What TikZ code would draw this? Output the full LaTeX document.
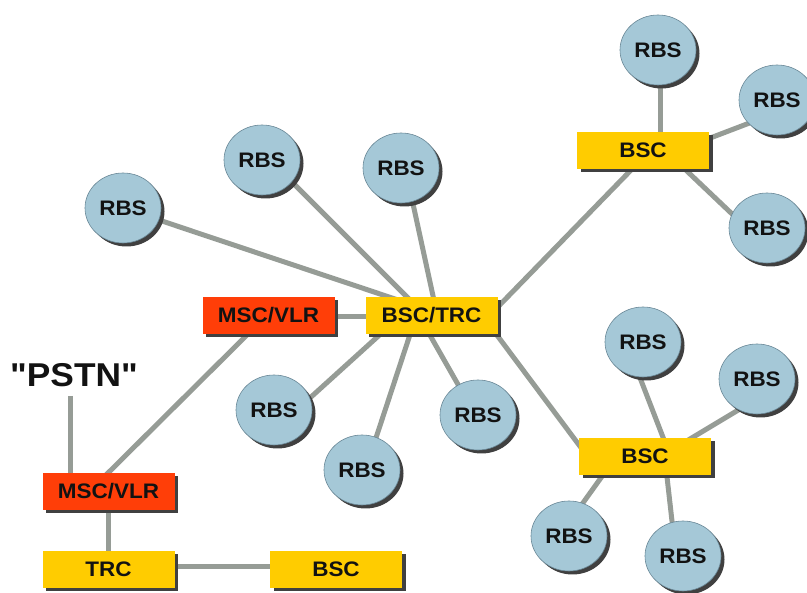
\documentclass[tikz,border=0pt]{standalone}
\usepackage{fontspec}
\setmainfont{Liberation Sans}
\newfontfamily\lblfont[FakeStretch=1.07]{Liberation Sans}
\usetikzlibrary{shapes.geometric,shadows,calc}
\pgfdeclarelayer{background}
\pgfsetlayers{background,main}

\definecolor{rbsblue}{RGB}{165,200,215}
\definecolor{rbsedge}{RGB}{105,135,150}
\definecolor{bscyellow}{RGB}{255,204,0}
\definecolor{mscred}{RGB}{255,62,8}
\definecolor{linkgray}{RGB}{150,156,150}
\definecolor{ink}{RGB}{18,18,18}

\begin{document}
\begin{tikzpicture}[x=1pt,y=-1pt,
  link/.style={draw=linkgray,line width=5pt},
  shadowed/.style={drop shadow={shadow xshift=3.5pt,shadow yshift=-3.5pt,fill=black!75,opacity=1}},
  rbs/.style={ellipse,minimum width=76pt,minimum height=70pt,inner sep=0pt,
    fill=rbsblue,draw=rbsedge,line width=0.6pt,shadowed,text=ink,
    font=\lblfont\bfseries\fontsize{21}{24}\selectfont},
  unit/.style={rectangle,minimum width=132pt,minimum height=37pt,inner sep=0pt,
    shadowed,text=ink,font=\lblfont\bfseries\fontsize{21}{24}\selectfont},
  bscbox/.style={unit,fill=bscyellow},
  mscbox/.style={unit,fill=mscred},
  pstnlabel/.style={inner sep=0pt,text=ink,font=\lblfont\bfseries\fontsize{33}{36}\selectfont}
]
\useasboundingbox (0,0) rectangle (807,593);

% switching units
\node[mscbox] (msc1) at (268.5,315.5) {MSC/VLR};
\node[bscbox] (bsctrc) at (431.5,315.5) {BSC/TRC};
\node[bscbox] (bsc1) at (643,150.5) {BSC};
\node[bscbox] (bsc2) at (645,456.5) {BSC};
\node[mscbox] (msc2) at (108.5,491.5) {MSC/VLR};
\node[bscbox] (trc) at (108.5,569.5) {TRC};
\node[bscbox] (bsc3) at (336,569.5) {BSC};
\node[pstnlabel] (pstn) at (74,375) {"PSTN"};

% radio base stations
\node[rbs] (r1) at (123,208) {RBS};
\node[rbs] (r2) at (262,160) {RBS};
\node[rbs] (r3) at (401,168) {RBS};
\node[rbs] (r4) at (658,50) {RBS};
\node[rbs] (r5) at (777,100) {RBS};
\node[rbs] (r6) at (767,228) {RBS};
\node[rbs] (r7) at (643,342) {RBS};
\node[rbs] (r8) at (757,379) {RBS};
\node[rbs] (r9) at (569,536) {RBS};
\node[rbs] (r10) at (683,556) {RBS};
\node[rbs] (r11) at (274,410) {RBS};
\node[rbs] (r12) at (362,470) {RBS};
\node[rbs] (r13) at (478,415) {RBS};

% links, drawn beneath the nodes
\begin{pgfonlayer}{background}
  \draw[link] ($(r1)+(27,9)$) -- ($(bsctrc)+(-32,-15)$);
  \draw[link] ($(r2)+(23,15)$) -- ($(bsctrc)+(-19.5,-13.5)$);
  \draw[link] ($(r3)+(9,22)$) -- ($(bsctrc)+(3.5,-10.5)$);
  \draw[link] ($(r11)+(26,-3)$) -- ($(bsctrc)+(-46.5,14.5)$);
  \draw[link] ($(r12)+(10,-20)$) -- ($(bsctrc)+(-20,14.5)$);
  \draw[link] ($(r13)+(-14,-20)$) -- ($(bsctrc)+(-4.5,14.5)$);
  \draw[link] ($(bsctrc)+(62,15)$) -- ($(bsc2)+(-63,-7.5)$);
  \draw[link] ($(bsctrc)+(58.5,-0.5)$) -- ($(bsc1)+(-8,15.5)$);
  \draw[link] ($(msc1)+(0,1.5)$) -- ($(bsctrc)+(0,1.5)$);
  \draw[link] ($(msc1)+(-16.5,14.5)$) -- ($(msc2)+(-3.5,-15.5)$);
  \draw[link] ($(pstn.south)+(-4,9)$) -- ($(msc2)+(-38.5,-11.5)$);
  \draw[link] (msc2) -- (trc);
  \draw[link] ($(trc)+(0,-2.5)$) -- ($(bsc3)+(0,-2.5)$);
  \draw[link] ($(bsc1)+(17,-5.5)$) -- ($(r4)+(2,10)$);
  \draw[link] ($(bsc1)+(62,-10.5)$) -- ($(r5)+(-17,19)$);
  \draw[link] ($(bsc1)+(37,14)$) -- ($(r6)+(-17,3)$);
  \draw[link] ($(bsc2)+(21,-11.5)$) -- ($(r7)+(-6,28)$);
  \draw[link] ($(bsc2)+(40,-14.5)$) -- ($(r8)+(-7,24)$);
  \draw[link] ($(bsc2)+(-37,11.5)$) -- ($(r9)+(6,-22)$);
  \draw[link] ($(bsc2)+(21,11.5)$) -- ($(r10)+(-10,-26)$);
\end{pgfonlayer}
\end{tikzpicture}
\end{document}
